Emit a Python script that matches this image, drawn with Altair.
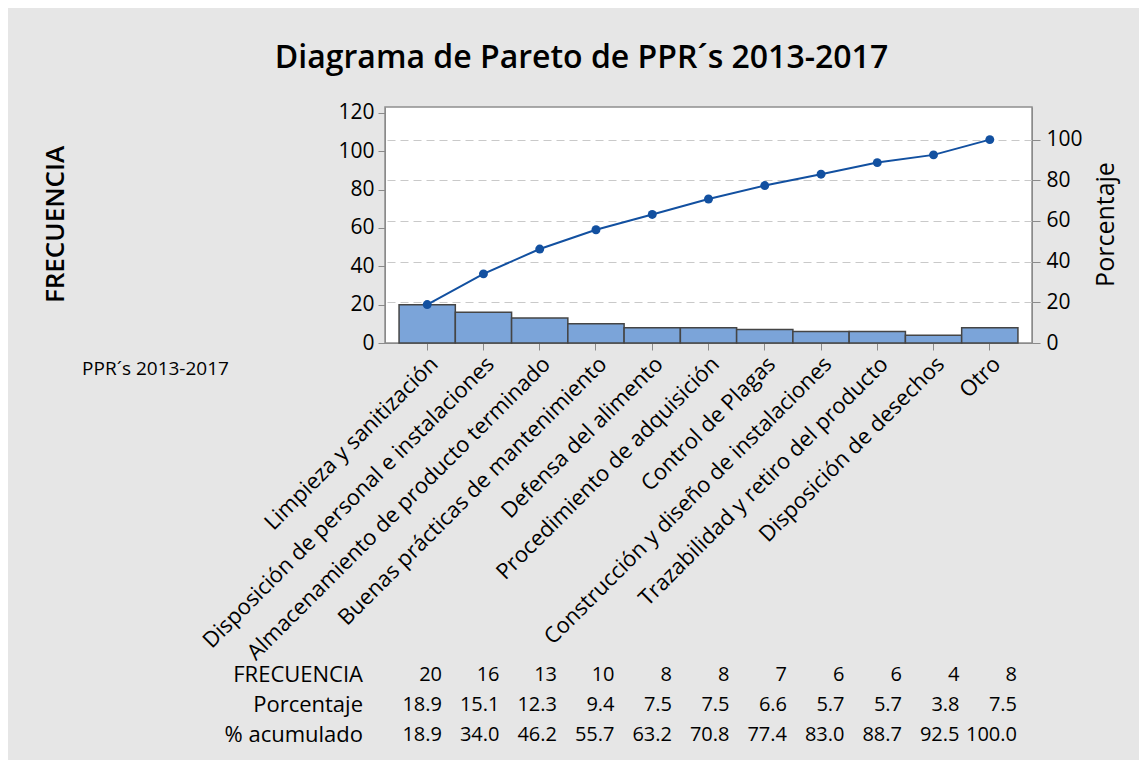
import altair as alt
import pandas as pd

categories = [
    "Limpieza y sanitización",
    "Disposición de personal e instalaciones",
    "Almacenamiento de producto terminado",
    "Buenas prácticas de mantenimiento",
    "Defensa del alimento",
    "Procedimiento de adquisición",
    "Control de Plagas",
    "Construcción y diseño de instalaciones",
    "Trazabilidad y retiro del producto",
    "Disposición de desechos",
    "Otro",
]
frecuencia = [20, 16, 13, 10, 8, 8, 7, 6, 6, 4, 8]
porcentaje = [18.9, 15.1, 12.3, 9.4, 7.5, 7.5, 6.6, 5.7, 5.7, 3.8, 7.5]
acumulado = [18.9, 34.0, 46.2, 55.7, 63.2, 70.8, 77.4, 83.0, 88.7, 92.5, 100.0]
row_labels = ["FRECUENCIA", "Porcentaje", "% acumulado"]

FONT = "Open Sans"
total = sum(frecuencia)
W, H = 647, 236
y_max = 123

df = pd.DataFrame({"cat": categories, "freq": frecuencia, "pct": porcentaje, "cum": acumulado})

rows = []
for i in range(len(categories)):
    rows.append({"col": i, "row": row_labels[0], "txt": f"{frecuencia[i]}"})
    rows.append({"col": i, "row": row_labels[1], "txt": f"{porcentaje[i]:.1f}"})
    rows.append({"col": i, "row": row_labels[2], "txt": f"{acumulado[i]:.1f}"})
table_df = pd.DataFrame(rows)
labels_df = pd.DataFrame({"row": row_labels})

bars = alt.Chart(df).mark_bar(
    color="#7ba4d9", stroke="#454545", strokeWidth=1.5
).encode(
    x=alt.X("cat:N", sort=categories,
            scale=alt.Scale(paddingInner=0, paddingOuter=0.25),
            axis=alt.Axis(title="PPR´s 2013-2017", labelAngle=315, labelFontSize=22,
                          labelColor="black", labelFont=FONT, labelPadding=3,
                          tickSize=7, tickColor="#8a8a8a", domainColor="#8a8a8a",
                          titleX=-230, titleY=25, titleAngle=0, titleAlign="center",
                          titleBaseline="middle", titleFontSize=19, titleFontWeight="normal",
                          titleFont=FONT, labelLimit=600)),
    y=alt.Y("freq:Q", scale=alt.Scale(domain=[0, y_max], nice=False),
            axis=alt.Axis(orient="left", title="FRECUENCIA", values=[0, 20, 40, 60, 80, 100, 120],
                          grid=False, labelFontSize=21, labelFont=FONT, labelColor="black",
                          tickSize=7, tickColor="#8a8a8a", domainColor="#8a8a8a",
                          labelPadding=4,
                          titleX=-330, titleY=117, titleAngle=270, titleAlign="center",
                          titleBaseline="middle", titleFontSize=26, titleFontWeight=600,
                          titleFont=FONT)),
)

line = alt.Chart(df).mark_line(
    color="#1250a0", strokeWidth=2,
    point=alt.OverlayMarkDef(color="#1250a0", filled=True, size=80, opacity=1),
).encode(
    x=alt.X("cat:N", sort=categories, scale=alt.Scale(type="point", padding=0.75), axis=None),
    y=alt.Y("cum:Q", scale=alt.Scale(domain=[0, y_max / total * 100], nice=False),
            axis=alt.Axis(orient="right", title="Porcentaje", values=[0, 20, 40, 60, 80, 100],
                          grid=True, gridDash=[8, 5], gridColor="#c9c9c9", gridWidth=1.2,
                          labelFontSize=21, labelFont=FONT, labelColor="black",
                          tickSize=8, tickColor="#8a8a8a", domainColor="#8a8a8a",
                          labelPadding=6,
                          titleX=73, titleY=117, titleAngle=270, titleAlign="center",
                          titleBaseline="middle", titleFontSize=25, titleFontWeight="normal",
                          titleFont=FONT)),
)

row_scale = alt.Scale(type="point", domain=row_labels, range=[568, 628], padding=0)

table = alt.Chart(table_df).mark_text(
    align="right", baseline="middle", fontSize=20, font=FONT, color="black"
).encode(
    x=alt.X("col:O", scale=alt.Scale(type="point", domain=list(range(len(categories))),
                                     range=[57, 632], padding=0), axis=None),
    y=alt.Y("row:N", scale=row_scale, axis=None),
    text="txt:N",
)

row_text = alt.Chart(labels_df).mark_text(
    align="right", baseline="middle", fontSize=22, font=FONT, color="black"
).encode(
    x=alt.value(-22),
    y=alt.Y("row:N", scale=row_scale, axis=None),
    text="row:N",
)

chart = alt.layer(bars, line, table, row_text).resolve_scale(
    x="independent", y="independent"
).properties(
    width=W, height=H,
    title=alt.TitleParams("Diagrama de Pareto de PPR´s 2013-2017", fontSize=32, font=FONT,
                          fontWeight=600, color="black", anchor="middle", dx=-127, offset=27),
    autosize=alt.AutoSizeParams(type="none"),
    padding={"left": 377, "top": 99, "right": 107, "bottom": 417},
    background="#e6e6e6",
).configure_view(
    fill="white", stroke="#8f8f8f", strokeWidth=1.5
)

chart.save("out.html", embed_options={"renderer": "svg", "actions": False})
